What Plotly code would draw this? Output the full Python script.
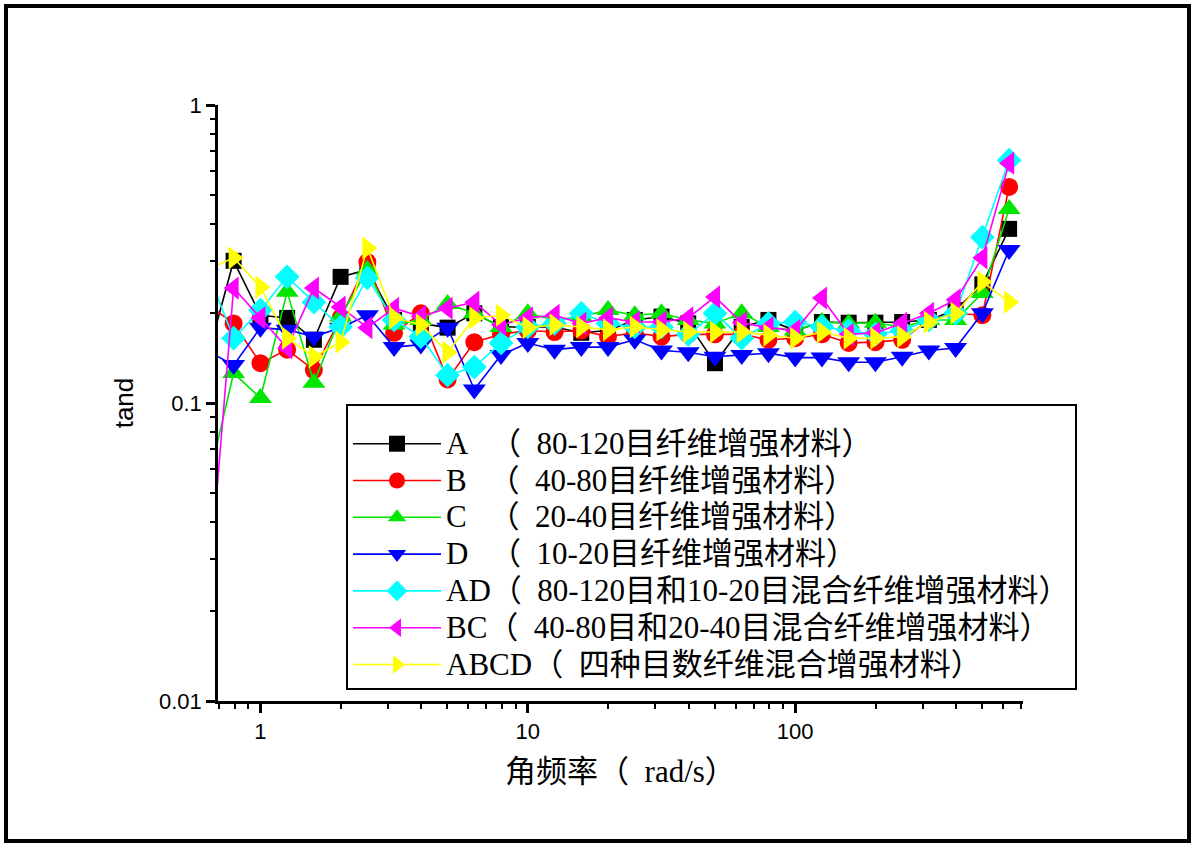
import plotly.graph_objects as go

freq = [0.631, 0.794, 1.0, 1.259, 1.585, 1.995, 2.512, 3.162, 3.981, 5.012, 6.310,
        7.943, 10.0, 12.59, 15.85, 19.95, 25.12, 31.62, 39.81, 50.12, 63.10,
        79.43, 100.0, 125.9, 158.5, 199.5, 251.2, 316.2, 398.1, 501.2, 631.0]

A = [0.14, 0.30, 0.197, 0.193, 0.163, 0.265, 0.28, 0.19, 0.185, 0.179, 0.2, 0.18, 0.18,
     0.18, 0.172, 0.175, 0.19, 0.195, 0.185, 0.136, 0.18, 0.19, 0.175, 0.187, 0.186,
     0.186, 0.187, 0.19, 0.205, 0.25, 0.384]
B = [0.215, 0.185, 0.136, 0.151, 0.129, 0.193, 0.297, 0.172, 0.2, 0.12, 0.16, 0.17, 0.175,
     0.173, 0.175, 0.167, 0.172, 0.167, 0.17, 0.17, 0.17, 0.163, 0.165, 0.17, 0.159,
     0.16, 0.163, 0.19, 0.2, 0.197, 0.531]
C = [0.052, 0.126, 0.104, 0.236, 0.117, 0.195, 0.28, 0.183, 0.19, 0.215, 0.2, 0.18, 0.2,
     0.19, 0.195, 0.205, 0.197, 0.2, 0.19, 0.185, 0.2, 0.18, 0.175, 0.187, 0.185,
     0.186, 0.18, 0.19, 0.19, 0.234, 0.448]
D = [0.15, 0.134, 0.179, 0.176, 0.167, 0.179, 0.197, 0.154, 0.157, 0.179, 0.111, 0.145,
     0.159, 0.151, 0.154, 0.154, 0.163, 0.15, 0.148, 0.143, 0.145, 0.147, 0.142, 0.142,
     0.137, 0.137, 0.143, 0.15, 0.153, 0.2, 0.326]
AD = [0.28, 0.165, 0.205, 0.265, 0.218, 0.18, 0.263, 0.19, 0.167, 0.124, 0.132, 0.159,
      0.18, 0.185, 0.2, 0.185, 0.18, 0.18, 0.17, 0.2, 0.165, 0.185, 0.187, 0.18, 0.175,
      0.17, 0.175, 0.19, 0.2, 0.36, 0.653]
BC = [0.02, 0.243, 0.193, 0.153, 0.243, 0.21, 0.179, 0.208, 0.195, 0.208, 0.218, 0.183,
      0.193, 0.197, 0.185, 0.193, 0.187, 0.187, 0.193, 0.227, 0.186, 0.179, 0.175, 0.225,
      0.17, 0.172, 0.185, 0.2, 0.222, 0.307, 0.638]
ABCD = [0.28, 0.307, 0.245, 0.165, 0.143, 0.16, 0.331, 0.193, 0.183, 0.148, 0.193, 0.197,
        0.179, 0.183, 0.18, 0.176, 0.18, 0.176, 0.173, 0.173, 0.173, 0.169, 0.165, 0.173,
        0.165, 0.165, 0.167, 0.187, 0.2, 0.255, 0.218]

names = [
    "A\u2002\u2009（\u200280-120目纤维增强材料）",
    "B\u2002\u2009（\u200240-80目纤维增强材料）",
    "C\u2002\u2009（\u200220-40目纤维增强材料）",
    "D\u2002\u2009（\u200210-20目纤维增强材料）",
    "AD（\u200280-120目和10-20目混合纤维增强材料）",
    "BC（\u200240-80目和20-40目混合纤维增强材料）",
    "ABCD（\u2002四种目数纤维混合增强材料）",
]
series = [A, B, C, D, AD, BC, ABCD]
colors = ["#000000", "#ff0000", "#00e600", "#0000ff", "#00ffff", "#ff00ff", "#ffff00"]
symbols = ["square", "circle", "triangle-up", "triangle-down", "diamond",
           "triangle-left", "triangle-right"]
sizes = [16, 18, 20, 20, 19, 20, 20]

xticks_minor = [0.7, 0.8, 0.9, 2, 3, 4, 5, 6, 7, 8, 9, 20, 30, 40, 50, 60, 70, 80, 90,
                200, 300, 400, 500, 600, 700]
yticks_minor = [0.02, 0.03, 0.04, 0.05, 0.06, 0.07, 0.08, 0.09,
                0.2, 0.3, 0.4, 0.5, 0.6, 0.7, 0.8, 0.9]

fig = go.Figure()
for nm, ys, c, s, sz in zip(names, series, colors, symbols, sizes):
    fig.add_trace(go.Scatter(
        x=freq, y=ys, name='<span style="font-size:31px">' + nm + '</span>',
        mode="lines+markers",
        line=dict(color=c, width=1.6),
        marker=dict(symbol=s, size=sz, color=c, line=dict(width=0)),
        cliponaxis=True,
    ))

L, R, T, Bm = 218, 1195 - 1023, 105, 848 - 701
W, H = 1195 - L - R, 848 - T - Bm


def px(x):
    return (x - L) / W


def py(y):
    return (848 - Bm - y) / H


fig.update_layout(
    width=1195, height=848,
    margin=dict(l=L, r=R, t=T, b=Bm, pad=0),
    paper_bgcolor="white", plot_bgcolor="white",
    font=dict(family="Liberation Sans, Arial, sans-serif", color="black"),
    showlegend=True,
    legend=dict(
        x=px(346), y=py(404), xanchor="left", yanchor="top",
        bgcolor="white", bordercolor="black", borderwidth=2,
        font=dict(family="Liberation Serif, Noto Sans CJK SC, serif", size=26, color="black"),
        title=dict(text=" ", font=dict(size=11)),
        itemwidth=88, tracegroupgap=0, itemsizing="trace",
    ),
    xaxis=dict(
        type="log", range=[-0.1586, 2.852],
        showline=True, linecolor="black", linewidth=2.5, mirror=False,
        showgrid=False, zeroline=False,
        ticks="outside", ticklen=9, tickwidth=2.5, tickcolor="black",
        tickvals=[1, 10, 100], ticktext=["1", "10", "100"],
        tickfont=dict(size=22, family="Liberation Sans, Arial, sans-serif"),
        minor=dict(tickvals=xticks_minor, ticks="outside", ticklen=5, tickwidth=2,
                   tickcolor="black", showgrid=False),
        title=dict(text="角频率（\u2002rad/s）", standoff=18,
                   font=dict(size=31, family="Liberation Serif, Noto Sans CJK SC, serif")),
    ),
    yaxis=dict(
        type="log", range=[-2, 0],
        showline=True, linecolor="black", linewidth=2.5, mirror=False,
        showgrid=False, zeroline=False,
        ticks="outside", ticklen=9, tickwidth=2.5, tickcolor="black",
        tickvals=[0.01, 0.1, 1], ticktext=["0.01", "0.1", "1"],
        tickfont=dict(size=22, family="Liberation Sans, Arial, sans-serif"),
        minor=dict(tickvals=yticks_minor, ticks="outside", ticklen=5, tickwidth=2,
                   tickcolor="black", showgrid=False),
        title=dict(text="tand", standoff=18,
                   font=dict(size=26, family="Liberation Sans, Arial, sans-serif")),
    ),
    shapes=[dict(type="rect", xref="paper", yref="paper",
                 x0=px(6), x1=px(1189), y0=py(841), y1=py(6),
                 line=dict(color="black", width=4), fillcolor="rgba(0,0,0,0)",
                 layer="below")],
)

fig.write_html("out.html")
